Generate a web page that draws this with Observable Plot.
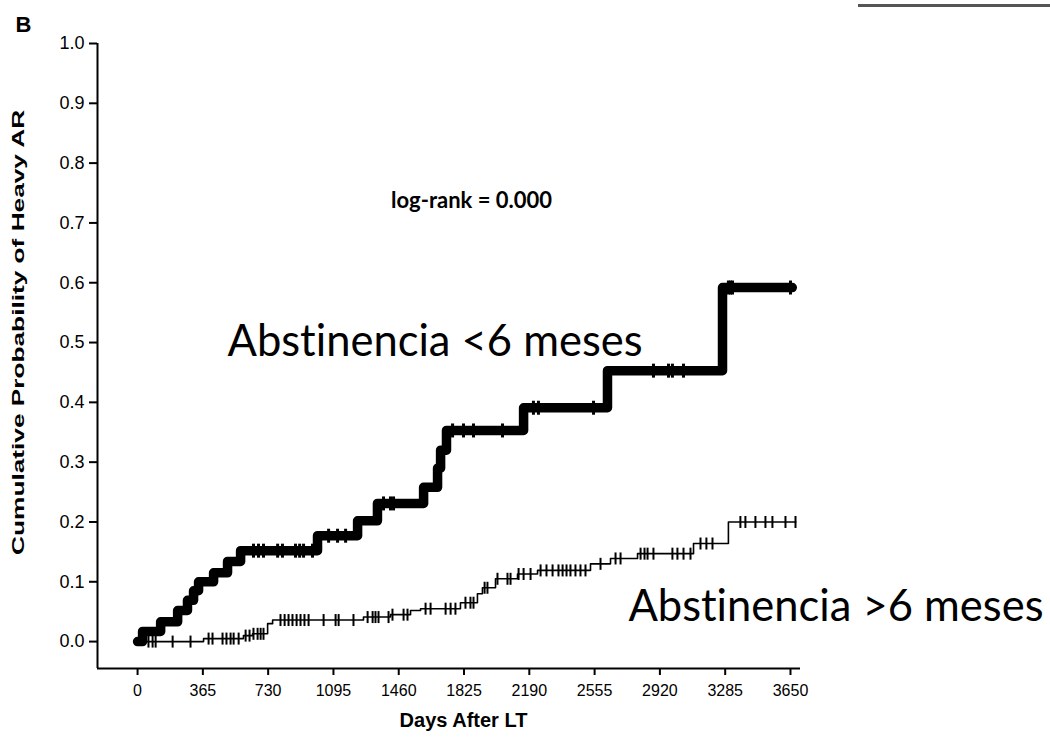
<!DOCTYPE html>
<html>
<head>
<meta charset="utf-8">
<script src="https://cdn.jsdelivr.net/npm/d3@7"></script>
<script src="https://cdn.jsdelivr.net/npm/@observablehq/plot@0.6"></script>
<style>
  body { margin: 0; background: #fff; }
  #wrap { position: relative; width: 1050px; height: 742px; overflow: hidden; }
  #wrap .corner-rule { position: absolute; left: 858px; top: 4px; width: 192px; height: 3px; background: #555; }
  #wrap svg { display: block; }
  #wrap svg text { font-variant-ligatures: none; }
</style>
</head>
<body>
<div id="wrap"><div class="corner-rule"></div></div>
<script>
// Kaplan–Meier cumulative incidence of heavy alcohol relapse after liver transplant.
// Group 1: abstinence < 6 months before LT (step times in days, cumulative probability).
const earlyDays = [0, 28, 129, 224, 279, 313, 341, 425, 503, 576, 1006, 1230, 1341, 1599, 1677, 1694, 1727, 2158, 2627, 3270, 3660];
const earlyProb = [0, 0.017, 0.033, 0.052, 0.069, 0.085, 0.100, 0.115, 0.134, 0.152, 0.177, 0.202, 0.231, 0.258, 0.290, 0.320, 0.353, 0.391, 0.453, 0.592, 0.592];
// Censored observations, group 1 (days).
const earlyCensored = [648, 676, 704, 783, 810, 883, 906, 928, 978, 1068, 1118, 1163, 1375, 1414, 1431, 1761, 1822, 1878, 2040, 2213, 2241, 2549, 2884, 2968, 2990, 3052, 3303, 3315, 3326, 3650];

// Group 2: abstinence > 6 months before LT.
const lateDays = [0, 369, 592, 643, 727, 755, 1263, 1414, 1526, 1582, 1805, 1900, 1928, 2001, 2124, 2236, 2532, 2644, 2795, 3108, 3303, 3680];
const lateProb = [0, 0.005, 0.010, 0.013, 0.030, 0.036, 0.041, 0.045, 0.052, 0.055, 0.065, 0.080, 0.090, 0.105, 0.113, 0.119, 0.130, 0.139, 0.147, 0.164, 0.200, 0.200];
// Censored observations, group 2 (days).
const lateCensored = [61, 84, 101, 196, 296, 397, 419, 475, 497, 520, 537, 565, 604, 626, 648, 671, 688, 704, 799, 822, 844, 866, 889, 911, 933, 956, 1040, 1107, 1124, 1207, 1286, 1314, 1330, 1347, 1403, 1425, 1487, 1509, 1610, 1638, 1722, 1750, 1777, 1833, 1861, 1878, 1940, 1956, 2012, 2068, 2085, 2130, 2158, 2197, 2253, 2286, 2320, 2353, 2376, 2398, 2420, 2448, 2476, 2504, 2588, 2672, 2700, 2812, 2834, 2851, 2884, 2990, 3018, 3052, 3091, 3147, 3180, 3214, 3370, 3398, 3454, 3510, 3549, 3622, 3678];

// Axis ticks and texts.
const xTicks = [0, 365, 730, 1095, 1460, 1825, 2190, 2555, 2920, 3285, 3650];
const yTicks = [0, 0.1, 0.2, 0.3, 0.4, 0.5, 0.6, 0.7, 0.8, 0.9, 1.0];
const xLabel = "Days After LT";
const yLabel = "Cumulative Probability of Heavy AR";
const panelLetter = "B";
const testNote = "log-rank = 0.000";
const earlyName = "Abstinencia <6 meses";
const lateName = "Abstinencia >6 meses";

// Build step rows and the curve value at each censoring time.
const rows = (days, probs) => days.map((d, i) => ({day: d, p: probs[i]}));
const levelAt = (days, probs, t) => {
  let v = probs[0];
  for (let i = 0; i < days.length; i++) if (days[i] <= t) v = probs[i];
  return v;
};
const censorRows = (cens, days, probs) => cens.map(t => ({day: t, p: levelAt(days, probs, t)}));

// Short vertical tick used for censoring marks.
const censorTick = {
  draw(context, size) {
    const r = Math.sqrt(size / Math.PI);
    context.moveTo(0, -r);
    context.lineTo(0, r);
  }
};

const xMin = -224, xMax = 3706, yMin = -0.045, yMax = 1;
const sans = "'Liberation Sans', Arial, Helvetica, sans-serif";
const calibriLike = "Lato, 'Open Sans', sans-serif";

const chart = Plot.plot({
  width: 1050,
  height: 742,
  marginLeft: 97,
  marginRight: 250,
  marginTop: 43,
  marginBottom: 74,
  style: {fontFamily: sans, background: "#fff", color: "#000", overflow: "visible"},
  x: {domain: [xMin, xMax]},
  y: {domain: [yMin, yMax]},
  marks: [
    Plot.ruleX([xMin], {y1: yMin, y2: yMax, stroke: "#000", strokeWidth: 2}),
    Plot.ruleY([yMin], {x1: xMin, x2: xMax, stroke: "#000", strokeWidth: 2}),
    Plot.axisY({ticks: yTicks, tickSize: 8, tickPadding: 5, tickFormat: d => d.toFixed(1), fontSize: 18, strokeWidth: 2, label: null}),
    Plot.axisX({ticks: xTicks, tickSize: 7, tickPadding: 9, tickFormat: d => String(d), fontSize: 16, strokeWidth: 2, label: null}),

    // Group 2: thin step curve with censor ticks
    Plot.line(rows(lateDays, lateProb), {x: "day", y: "p", curve: "step-after", stroke: "#000", strokeWidth: 1.6}),
    Plot.dot(censorRows(lateCensored, lateDays, lateProb), {x: "day", y: "p", symbol: censorTick, r: 6, fill: "none", stroke: "#000", strokeWidth: 2}),

    // Group 1: heavy step curve with censor ticks
    Plot.line(rows(earlyDays, earlyProb), {x: "day", y: "p", curve: "step-after", stroke: "#000", strokeWidth: 9.5, strokeLinejoin: "round", strokeLinecap: "round"}),
    Plot.dot(censorRows(earlyCensored, earlyDays, earlyProb), {x: "day", y: "p", symbol: censorTick, r: 7, fill: "none", stroke: "#000", strokeWidth: 3}),

    // Texts
    Plot.text([panelLetter], {frameAnchor: "top-left", dx: -82, dy: -27, fontSize: 22, fontWeight: "bold"}),
    Plot.text([yLabel], {x: xMin, y: 0.517, dx: -79, rotate: -90, fontSize: 16, fontWeight: "bold"}),
    Plot.text([xLabel], {x: 1822, y: yMin, dy: 52, fontSize: 20, fontWeight: "bold"}),
    Plot.text([testNote], {x: 1867, y: 0.737, fontSize: 22, fontWeight: "bold", fontFamily: calibriLike}),
    Plot.text([earlyName], {x: 503, y: 0.50, textAnchor: "start", fontSize: 43.5, fontFamily: calibriLike}),
    Plot.text([lateName], {x: 2744, y: 0.057, textAnchor: "start", fontSize: 43.5, fontFamily: calibriLike})
  ]
});

// The vertical axis title is drawn tall and narrow: stretch it along its run.
d3.select(chart).selectAll("text")
  .filter(function () { return this.textContent === yLabel; })
  .attr("textLength", 445)
  .attr("lengthAdjust", "spacingAndGlyphs");

document.getElementById("wrap").appendChild(chart);
</script>
</body>
</html>
